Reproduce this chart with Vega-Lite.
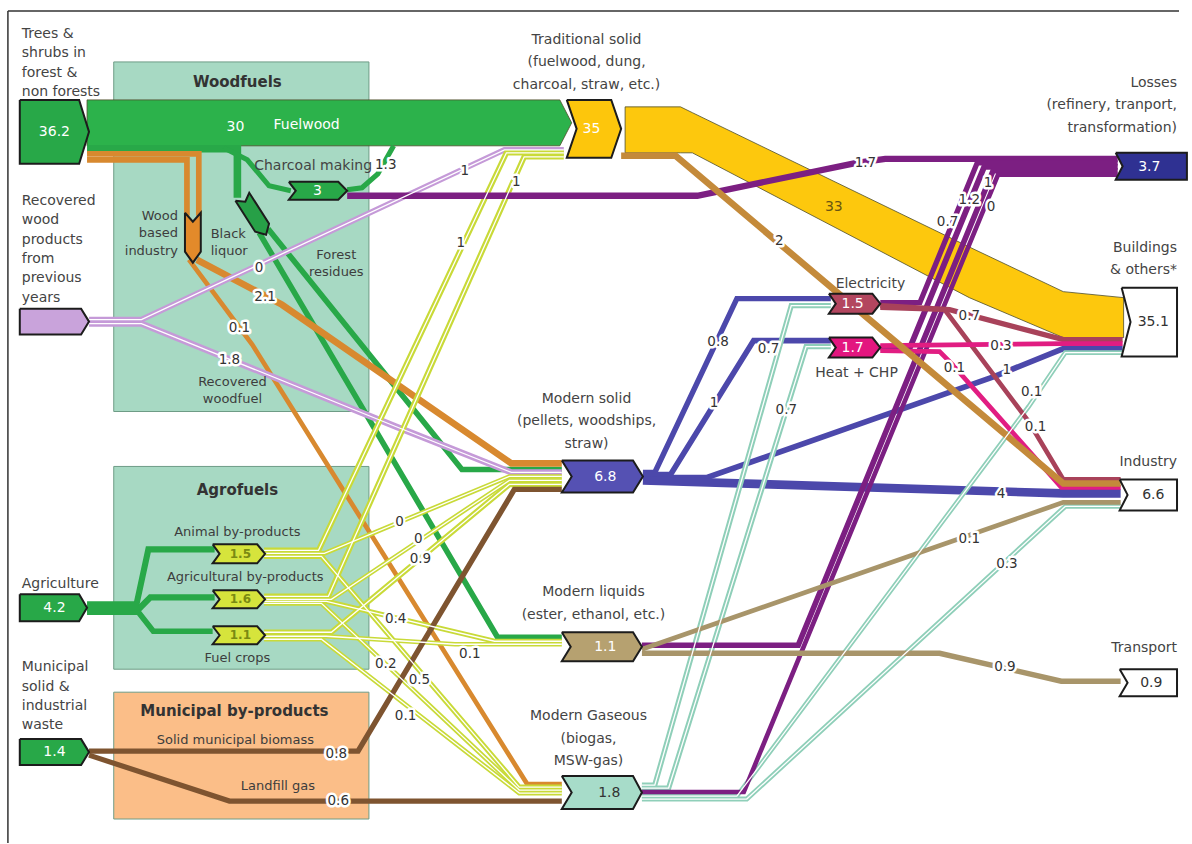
{
  "$schema": "https://vega.github.io/schema/vega-lite/v6.json",
  "width": 1192,
  "height": 844,
  "autosize": {"type": "fit", "contains": "padding"},
  "padding": 0,
  "background": "#ffffff",
  "config": {"view": {"stroke": null}, "text": {"font": "DejaVu Sans"}},
  "datasets": {
    "boxes": [
      {"name": "Woodfuels", "kind": "woodfuels box", "x0": 115, "x1": 373, "y0": 62, "y1": 412},
      {"name": "Agrofuels", "kind": "agrofuels box", "x0": 115, "x1": 373, "y0": 467, "y1": 670},
      {"name": "Municipal by-products", "kind": "municipal box", "x0": 115, "x1": 373, "y0": 693, "y1": 820}
    ],
    "bands": [
      {"id": "fuelwood", "kind": "fuelwood band", "x": 88, "y": 100, "y2": 146},
      {"id": "fuelwood", "kind": "fuelwood band", "x": 566, "y": 100, "y2": 146},
      {"id": "fuelwood", "kind": "fuelwood band", "x": 578, "y": 123, "y2": 123},
      {"id": "trad", "kind": "traditional band", "x": 632, "y": 107, "y2": 153},
      {"id": "trad", "kind": "traditional band", "x": 688, "y": 107, "y2": 153},
      {"id": "trad", "kind": "traditional band", "x": 700, "y": 112.8, "y2": 153},
      {"id": "trad", "kind": "traditional band", "x": 980, "y": 247.3, "y2": 298},
      {"id": "trad", "kind": "traditional band", "x": 1075, "y": 292, "y2": 338},
      {"id": "trad", "kind": "traditional band", "x": 1136, "y": 298, "y2": 338}
    ],
    "links": [
      {"id": "w_bl", "kind": "wood", "value": 3, "ord": 1, "x": 88, "y": 149},
      {"id": "w_bl", "kind": "wood", "value": 3, "ord": 2, "x": 240, "y": 149},
      {"id": "w_bl", "kind": "wood", "value": 3, "ord": 3, "x": 240, "y": 198},
      {"id": "w_ch", "kind": "wood", "value": 0.5, "ord": 1, "x": 226, "y": 148},
      {"id": "w_ch", "kind": "wood", "value": 0.5, "ord": 2, "x": 250, "y": 160},
      {"id": "w_ch", "kind": "wood", "value": 0.5, "ord": 3, "x": 272, "y": 186},
      {"id": "w_ch", "kind": "wood", "value": 0.5, "ord": 4, "x": 294, "y": 191},
      {"id": "w_ct", "kind": "wood", "value": 0.5, "ord": 1, "x": 351, "y": 190},
      {"id": "w_ct", "kind": "wood", "value": 0.5, "ord": 2, "x": 366, "y": 188},
      {"id": "w_ct", "kind": "wood", "value": 0.5, "ord": 3, "x": 382, "y": 174},
      {"id": "w_ct", "kind": "wood", "value": 0.5, "ord": 4, "x": 398, "y": 146},
      {"id": "w_bms", "kind": "wood", "value": 1, "ord": 1, "x": 271, "y": 229},
      {"id": "w_bms", "kind": "wood", "value": 1, "ord": 2, "x": 467, "y": 470},
      {"id": "w_bms", "kind": "wood", "value": 1, "ord": 3, "x": 568, "y": 470},
      {"id": "w_bliq", "kind": "wood", "value": 1, "ord": 1, "x": 262, "y": 233},
      {"id": "w_bliq", "kind": "wood", "value": 1, "ord": 2, "x": 503, "y": 638},
      {"id": "w_bliq", "kind": "wood", "value": 1, "ord": 3, "x": 568, "y": 638},
      {"id": "ag1", "kind": "wood", "value": 1.5, "ord": 1, "x": 88, "y": 605},
      {"id": "ag1", "kind": "wood", "value": 1.5, "ord": 2, "x": 138, "y": 605},
      {"id": "ag1", "kind": "wood", "value": 1.5, "ord": 3, "x": 150, "y": 550},
      {"id": "ag1", "kind": "wood", "value": 1.5, "ord": 4, "x": 217, "y": 550},
      {"id": "ag2", "kind": "wood", "value": 1.6, "ord": 1, "x": 88, "y": 609},
      {"id": "ag2", "kind": "wood", "value": 1.6, "ord": 2, "x": 141, "y": 609},
      {"id": "ag2", "kind": "wood", "value": 1.6, "ord": 3, "x": 152, "y": 598},
      {"id": "ag2", "kind": "wood", "value": 1.6, "ord": 4, "x": 217, "y": 598},
      {"id": "ag3", "kind": "wood", "value": 1.1, "ord": 1, "x": 88, "y": 613},
      {"id": "ag3", "kind": "wood", "value": 1.1, "ord": 2, "x": 140, "y": 613},
      {"id": "ag3", "kind": "wood", "value": 1.1, "ord": 3, "x": 155, "y": 632},
      {"id": "ag3", "kind": "wood", "value": 1.1, "ord": 4, "x": 215, "y": 632},
      {"id": "o1", "kind": "wood industry", "value": 1.1, "ord": 1, "x": 88, "y": 154},
      {"id": "o1", "kind": "wood industry", "value": 1.1, "ord": 2, "x": 201, "y": 154},
      {"id": "o1", "kind": "wood industry", "value": 1.1, "ord": 3, "x": 201, "y": 216},
      {"id": "o2", "kind": "wood industry", "value": 1.1, "ord": 1, "x": 88, "y": 160},
      {"id": "o2", "kind": "wood industry", "value": 1.1, "ord": 2, "x": 189, "y": 160},
      {"id": "o2", "kind": "wood industry", "value": 1.1, "ord": 3, "x": 189, "y": 216},
      {"id": "o_ms", "kind": "wood industry", "value": 2.1, "ord": 1, "x": 199, "y": 260},
      {"id": "o_ms", "kind": "wood industry", "value": 2.1, "ord": 2, "x": 285, "y": 305},
      {"id": "o_ms", "kind": "wood industry", "value": 2.1, "ord": 3, "x": 517, "y": 464},
      {"id": "o_ms", "kind": "wood industry", "value": 2.1, "ord": 4, "x": 568, "y": 464},
      {"id": "o_gas", "kind": "wood industry", "value": 0.1, "ord": 1, "x": 191, "y": 260},
      {"id": "o_gas", "kind": "wood industry", "value": 0.1, "ord": 2, "x": 255, "y": 345},
      {"id": "o_gas", "kind": "wood industry", "value": 0.1, "ord": 3, "x": 533, "y": 785},
      {"id": "o_gas", "kind": "wood industry", "value": 0.1, "ord": 4, "x": 568, "y": 785},
      {"id": "r_tr", "kind": "recovered", "value": 1, "ord": 1, "x": 90, "y": 320},
      {"id": "r_tr", "kind": "recovered", "value": 1, "ord": 2, "x": 143, "y": 320},
      {"id": "r_tr", "kind": "recovered", "value": 1, "ord": 3, "x": 510, "y": 150},
      {"id": "r_tr", "kind": "recovered", "value": 1, "ord": 4, "x": 570, "y": 150},
      {"id": "r_ms", "kind": "recovered", "value": 1.8, "ord": 1, "x": 90, "y": 324},
      {"id": "r_ms", "kind": "recovered", "value": 1.8, "ord": 2, "x": 143, "y": 324},
      {"id": "r_ms", "kind": "recovered", "value": 1.8, "ord": 3, "x": 400, "y": 427},
      {"id": "r_ms", "kind": "recovered", "value": 1.8, "ord": 4, "x": 517, "y": 473},
      {"id": "r_ms", "kind": "recovered", "value": 1.8, "ord": 5, "x": 568, "y": 473},
      {"id": "a_tr", "kind": "agro", "value": 1, "ord": 1, "x": 267, "y": 551},
      {"id": "a_tr", "kind": "agro", "value": 1, "ord": 2, "x": 322, "y": 551},
      {"id": "a_tr", "kind": "agro", "value": 1, "ord": 3, "x": 512, "y": 153},
      {"id": "a_tr", "kind": "agro", "value": 1, "ord": 4, "x": 570, "y": 153},
      {"id": "a_ms", "kind": "agro", "value": 0, "ord": 1, "x": 267, "y": 554},
      {"id": "a_ms", "kind": "agro", "value": 0, "ord": 2, "x": 328, "y": 554},
      {"id": "a_ms", "kind": "agro", "value": 0, "ord": 3, "x": 515, "y": 477},
      {"id": "a_ms", "kind": "agro", "value": 0, "ord": 4, "x": 568, "y": 477},
      {"id": "a_gas", "kind": "agro", "value": 0.5, "ord": 1, "x": 267, "y": 557},
      {"id": "a_gas", "kind": "agro", "value": 0.5, "ord": 2, "x": 325, "y": 557},
      {"id": "a_gas", "kind": "agro", "value": 0.5, "ord": 3, "x": 525, "y": 788},
      {"id": "a_gas", "kind": "agro", "value": 0.5, "ord": 4, "x": 568, "y": 788},
      {"id": "b_tr", "kind": "agro", "value": 1, "ord": 1, "x": 267, "y": 597},
      {"id": "b_tr", "kind": "agro", "value": 1, "ord": 2, "x": 332, "y": 597},
      {"id": "b_tr", "kind": "agro", "value": 1, "ord": 3, "x": 530, "y": 157},
      {"id": "b_tr", "kind": "agro", "value": 1, "ord": 4, "x": 570, "y": 157},
      {"id": "b_ms", "kind": "agro", "value": 0, "ord": 1, "x": 267, "y": 600},
      {"id": "b_ms", "kind": "agro", "value": 0, "ord": 2, "x": 335, "y": 600},
      {"id": "b_ms", "kind": "agro", "value": 0, "ord": 3, "x": 515, "y": 481},
      {"id": "b_ms", "kind": "agro", "value": 0, "ord": 4, "x": 568, "y": 481},
      {"id": "b_liq", "kind": "agro", "value": 0.4, "ord": 1, "x": 267, "y": 602},
      {"id": "b_liq", "kind": "agro", "value": 0.4, "ord": 2, "x": 330, "y": 602},
      {"id": "b_liq", "kind": "agro", "value": 0.4, "ord": 3, "x": 500, "y": 642},
      {"id": "b_liq", "kind": "agro", "value": 0.4, "ord": 4, "x": 568, "y": 642},
      {"id": "b_gas", "kind": "agro", "value": 0.2, "ord": 1, "x": 267, "y": 604},
      {"id": "b_gas", "kind": "agro", "value": 0.2, "ord": 2, "x": 325, "y": 604},
      {"id": "b_gas", "kind": "agro", "value": 0.2, "ord": 3, "x": 525, "y": 791},
      {"id": "b_gas", "kind": "agro", "value": 0.2, "ord": 4, "x": 568, "y": 791},
      {"id": "c_ms", "kind": "agro", "value": 0.9, "ord": 1, "x": 267, "y": 633},
      {"id": "c_ms", "kind": "agro", "value": 0.9, "ord": 2, "x": 335, "y": 633},
      {"id": "c_ms", "kind": "agro", "value": 0.9, "ord": 3, "x": 515, "y": 485},
      {"id": "c_ms", "kind": "agro", "value": 0.9, "ord": 4, "x": 568, "y": 485},
      {"id": "c_liq", "kind": "agro", "value": 0.1, "ord": 1, "x": 267, "y": 637},
      {"id": "c_liq", "kind": "agro", "value": 0.1, "ord": 2, "x": 330, "y": 637},
      {"id": "c_liq", "kind": "agro", "value": 0.1, "ord": 3, "x": 460, "y": 645},
      {"id": "c_liq", "kind": "agro", "value": 0.1, "ord": 4, "x": 568, "y": 645},
      {"id": "c_gas", "kind": "agro", "value": 0.1, "ord": 1, "x": 267, "y": 640},
      {"id": "c_gas", "kind": "agro", "value": 0.1, "ord": 2, "x": 325, "y": 640},
      {"id": "c_gas", "kind": "agro", "value": 0.1, "ord": 3, "x": 525, "y": 794},
      {"id": "c_gas", "kind": "agro", "value": 0.1, "ord": 4, "x": 568, "y": 794},
      {"id": "m_ms", "kind": "municipal", "value": 0.8, "ord": 1, "x": 90, "y": 752},
      {"id": "m_ms", "kind": "municipal", "value": 0.8, "ord": 2, "x": 362, "y": 752},
      {"id": "m_ms", "kind": "municipal", "value": 0.8, "ord": 3, "x": 520, "y": 490},
      {"id": "m_ms", "kind": "municipal", "value": 0.8, "ord": 4, "x": 568, "y": 490},
      {"id": "m_gas", "kind": "municipal", "value": 0.6, "ord": 1, "x": 90, "y": 756},
      {"id": "m_gas", "kind": "municipal", "value": 0.6, "ord": 2, "x": 232, "y": 802},
      {"id": "m_gas", "kind": "municipal", "value": 0.6, "ord": 3, "x": 568, "y": 802},
      {"id": "ms_el", "kind": "modern solid", "value": 0.8, "ord": 1, "x": 650, "y": 473},
      {"id": "ms_el", "kind": "modern solid", "value": 0.8, "ord": 2, "x": 662, "y": 473},
      {"id": "ms_el", "kind": "modern solid", "value": 0.8, "ord": 3, "x": 745, "y": 299},
      {"id": "ms_el", "kind": "modern solid", "value": 0.8, "ord": 4, "x": 840, "y": 299},
      {"id": "ms_ht", "kind": "modern solid", "value": 1, "ord": 1, "x": 650, "y": 475},
      {"id": "ms_ht", "kind": "modern solid", "value": 1, "ord": 2, "x": 678, "y": 475},
      {"id": "ms_ht", "kind": "modern solid", "value": 1, "ord": 3, "x": 762, "y": 341},
      {"id": "ms_ht", "kind": "modern solid", "value": 1, "ord": 4, "x": 840, "y": 341},
      {"id": "ms_bd", "kind": "modern solid", "value": 1, "ord": 1, "x": 650, "y": 478},
      {"id": "ms_bd", "kind": "modern solid", "value": 1, "ord": 2, "x": 715, "y": 478},
      {"id": "ms_bd", "kind": "modern solid", "value": 1, "ord": 3, "x": 1005, "y": 377},
      {"id": "ms_bd", "kind": "modern solid", "value": 1, "ord": 4, "x": 1075, "y": 349},
      {"id": "ms_bd", "kind": "modern solid", "value": 1, "ord": 5, "x": 1135, "y": 349},
      {"id": "ms_in", "kind": "modern solid", "value": 4, "ord": 1, "x": 650, "y": 481},
      {"id": "ms_in", "kind": "modern solid", "value": 4, "ord": 2, "x": 1075, "y": 494},
      {"id": "ms_in", "kind": "modern solid", "value": 4, "ord": 3, "x": 1133, "y": 494},
      {"id": "g_el", "kind": "modern gaseous", "value": 0.7, "ord": 1, "x": 649, "y": 786},
      {"id": "g_el", "kind": "modern gaseous", "value": 0.7, "ord": 2, "x": 662, "y": 786},
      {"id": "g_el", "kind": "modern gaseous", "value": 0.7, "ord": 3, "x": 800, "y": 306},
      {"id": "g_el", "kind": "modern gaseous", "value": 0.7, "ord": 4, "x": 840, "y": 306},
      {"id": "g_ht", "kind": "modern gaseous", "value": 0.7, "ord": 1, "x": 649, "y": 789},
      {"id": "g_ht", "kind": "modern gaseous", "value": 0.7, "ord": 2, "x": 676, "y": 789},
      {"id": "g_ht", "kind": "modern gaseous", "value": 0.7, "ord": 3, "x": 815, "y": 347},
      {"id": "g_ht", "kind": "modern gaseous", "value": 0.7, "ord": 4, "x": 840, "y": 347},
      {"id": "g_bd", "kind": "modern gaseous", "value": 0.1, "ord": 1, "x": 649, "y": 797},
      {"id": "g_bd", "kind": "modern gaseous", "value": 0.1, "ord": 2, "x": 745, "y": 797},
      {"id": "g_bd", "kind": "modern gaseous", "value": 0.1, "ord": 3, "x": 1040, "y": 407},
      {"id": "g_bd", "kind": "modern gaseous", "value": 0.1, "ord": 4, "x": 1077, "y": 353},
      {"id": "g_bd", "kind": "modern gaseous", "value": 0.1, "ord": 5, "x": 1135, "y": 353},
      {"id": "g_in", "kind": "modern gaseous", "value": 0.3, "ord": 1, "x": 649, "y": 800},
      {"id": "g_in", "kind": "modern gaseous", "value": 0.3, "ord": 2, "x": 755, "y": 800},
      {"id": "g_in", "kind": "modern gaseous", "value": 0.3, "ord": 3, "x": 1077, "y": 507},
      {"id": "g_in", "kind": "modern gaseous", "value": 0.3, "ord": 4, "x": 1133, "y": 507},
      {"id": "p_ch", "kind": "losses", "value": 1.7, "ord": 1, "x": 351, "y": 196},
      {"id": "p_ch", "kind": "losses", "value": 1.7, "ord": 2, "x": 705, "y": 196},
      {"id": "p_ch", "kind": "losses", "value": 1.7, "ord": 3, "x": 866, "y": 163},
      {"id": "p_ch", "kind": "losses", "value": 1.7, "ord": 4, "x": 895, "y": 159},
      {"id": "p_ch", "kind": "losses", "value": 1.7, "ord": 5, "x": 1130, "y": 159},
      {"id": "p_el", "kind": "losses", "value": 0.7, "ord": 1, "x": 890, "y": 303},
      {"id": "p_el", "kind": "losses", "value": 0.7, "ord": 2, "x": 930, "y": 303},
      {"id": "p_el", "kind": "losses", "value": 0.7, "ord": 3, "x": 988, "y": 163},
      {"id": "p_el", "kind": "losses", "value": 0.7, "ord": 4, "x": 1130, "y": 163},
      {"id": "p_ht", "kind": "losses", "value": 1.2, "ord": 1, "x": 890, "y": 348},
      {"id": "p_ht", "kind": "losses", "value": 1.2, "ord": 2, "x": 920, "y": 348},
      {"id": "p_ht", "kind": "losses", "value": 1.2, "ord": 3, "x": 995, "y": 167},
      {"id": "p_ht", "kind": "losses", "value": 1.2, "ord": 4, "x": 1130, "y": 167},
      {"id": "p_lq", "kind": "losses", "value": 1, "ord": 1, "x": 649, "y": 646},
      {"id": "p_lq", "kind": "losses", "value": 1, "ord": 2, "x": 807, "y": 646},
      {"id": "p_lq", "kind": "losses", "value": 1, "ord": 3, "x": 1004, "y": 171},
      {"id": "p_lq", "kind": "losses", "value": 1, "ord": 4, "x": 1130, "y": 171},
      {"id": "p_gs", "kind": "losses", "value": 0, "ord": 1, "x": 649, "y": 793},
      {"id": "p_gs", "kind": "losses", "value": 0, "ord": 2, "x": 752, "y": 793},
      {"id": "p_gs", "kind": "losses", "value": 0, "ord": 3, "x": 1009, "y": 175},
      {"id": "p_gs", "kind": "losses", "value": 0, "ord": 4, "x": 1130, "y": 175},
      {"id": "e_bd", "kind": "electricity", "value": 0.7, "ord": 1, "x": 890, "y": 306},
      {"id": "e_bd", "kind": "electricity", "value": 0.7, "ord": 2, "x": 960, "y": 310},
      {"id": "e_bd", "kind": "electricity", "value": 0.7, "ord": 3, "x": 1075, "y": 340},
      {"id": "e_bd", "kind": "electricity", "value": 0.7, "ord": 4, "x": 1135, "y": 340},
      {"id": "e_in", "kind": "electricity", "value": 0.1, "ord": 1, "x": 890, "y": 308},
      {"id": "e_in", "kind": "electricity", "value": 0.1, "ord": 2, "x": 955, "y": 310},
      {"id": "e_in", "kind": "electricity", "value": 0.1, "ord": 3, "x": 1040, "y": 422},
      {"id": "e_in", "kind": "electricity", "value": 0.1, "ord": 4, "x": 1075, "y": 480},
      {"id": "e_in", "kind": "electricity", "value": 0.1, "ord": 5, "x": 1133, "y": 480},
      {"id": "h_bd", "kind": "heat", "value": 0.3, "ord": 1, "x": 890, "y": 346},
      {"id": "h_bd", "kind": "heat", "value": 0.3, "ord": 2, "x": 1075, "y": 344},
      {"id": "h_bd", "kind": "heat", "value": 0.3, "ord": 3, "x": 1135, "y": 344},
      {"id": "h_in", "kind": "heat", "value": 0.1, "ord": 1, "x": 890, "y": 351},
      {"id": "h_in", "kind": "heat", "value": 0.1, "ord": 2, "x": 950, "y": 352},
      {"id": "h_in", "kind": "heat", "value": 0.1, "ord": 3, "x": 963, "y": 365},
      {"id": "h_in", "kind": "heat", "value": 0.1, "ord": 4, "x": 1073, "y": 488},
      {"id": "h_in", "kind": "heat", "value": 0.1, "ord": 5, "x": 1133, "y": 488},
      {"id": "t_in", "kind": "traditional", "value": 2, "ord": 1, "x": 628, "y": 156},
      {"id": "t_in", "kind": "traditional", "value": 2, "ord": 2, "x": 683, "y": 156},
      {"id": "t_in", "kind": "traditional", "value": 2, "ord": 3, "x": 1075, "y": 484},
      {"id": "t_in", "kind": "traditional", "value": 2, "ord": 4, "x": 1133, "y": 484},
      {"id": "l_in", "kind": "modern liquids", "value": 0.1, "ord": 1, "x": 649, "y": 650},
      {"id": "l_in", "kind": "modern liquids", "value": 0.1, "ord": 2, "x": 1075, "y": 503},
      {"id": "l_in", "kind": "modern liquids", "value": 0.1, "ord": 3, "x": 1133, "y": 503},
      {"id": "l_tr", "kind": "modern liquids", "value": 0.9, "ord": 1, "x": 649, "y": 654},
      {"id": "l_tr", "kind": "modern liquids", "value": 0.9, "ord": 2, "x": 950, "y": 654},
      {"id": "l_tr", "kind": "modern liquids", "value": 0.9, "ord": 3, "x": 1073, "y": 682},
      {"id": "l_tr", "kind": "modern liquids", "value": 0.9, "ord": 4, "x": 1133, "y": 682}
    ],
    "nodes": [
      {"id": "trees", "kind": "green", "ord": 1, "x": 20, "y": 100},
      {"id": "trees", "kind": "green", "ord": 2, "x": 80, "y": 100},
      {"id": "trees", "kind": "green", "ord": 3, "x": 90, "y": 132},
      {"id": "trees", "kind": "green", "ord": 4, "x": 80, "y": 164},
      {"id": "trees", "kind": "green", "ord": 5, "x": 20, "y": 164},
      {"id": "trees", "kind": "green", "ord": 6, "x": 20, "y": 100},
      {"id": "recov", "kind": "recovered", "ord": 1, "x": 20, "y": 309},
      {"id": "recov", "kind": "recovered", "ord": 2, "x": 82, "y": 309},
      {"id": "recov", "kind": "recovered", "ord": 3, "x": 90, "y": 322},
      {"id": "recov", "kind": "recovered", "ord": 4, "x": 82, "y": 335},
      {"id": "recov", "kind": "recovered", "ord": 5, "x": 20, "y": 335},
      {"id": "recov", "kind": "recovered", "ord": 6, "x": 20, "y": 309},
      {"id": "agri", "kind": "green", "ord": 1, "x": 20, "y": 595},
      {"id": "agri", "kind": "green", "ord": 2, "x": 80, "y": 595},
      {"id": "agri", "kind": "green", "ord": 3, "x": 88, "y": 608.5},
      {"id": "agri", "kind": "green", "ord": 4, "x": 80, "y": 622},
      {"id": "agri", "kind": "green", "ord": 5, "x": 20, "y": 622},
      {"id": "agri", "kind": "green", "ord": 6, "x": 20, "y": 595},
      {"id": "muni", "kind": "green", "ord": 1, "x": 20, "y": 740},
      {"id": "muni", "kind": "green", "ord": 2, "x": 82, "y": 740},
      {"id": "muni", "kind": "green", "ord": 3, "x": 90, "y": 753},
      {"id": "muni", "kind": "green", "ord": 4, "x": 82, "y": 766},
      {"id": "muni", "kind": "green", "ord": 5, "x": 20, "y": 766},
      {"id": "muni", "kind": "green", "ord": 6, "x": 20, "y": 740},
      {"id": "charc", "kind": "green", "ord": 1, "x": 292, "y": 182},
      {"id": "charc", "kind": "green", "ord": 2, "x": 342, "y": 182},
      {"id": "charc", "kind": "green", "ord": 3, "x": 351, "y": 191},
      {"id": "charc", "kind": "green", "ord": 4, "x": 342, "y": 200},
      {"id": "charc", "kind": "green", "ord": 5, "x": 292, "y": 200},
      {"id": "charc", "kind": "green", "ord": 6, "x": 299, "y": 191},
      {"id": "charc", "kind": "green", "ord": 7, "x": 292, "y": 182},
      {"id": "trad", "kind": "traditional", "ord": 1, "x": 573, "y": 100},
      {"id": "trad", "kind": "traditional", "ord": 2, "x": 618, "y": 100},
      {"id": "trad", "kind": "traditional", "ord": 3, "x": 628, "y": 129},
      {"id": "trad", "kind": "traditional", "ord": 4, "x": 618, "y": 158},
      {"id": "trad", "kind": "traditional", "ord": 5, "x": 573, "y": 158},
      {"id": "trad", "kind": "traditional", "ord": 6, "x": 583, "y": 129},
      {"id": "trad", "kind": "traditional", "ord": 7, "x": 573, "y": 100},
      {"id": "msol", "kind": "modern solid", "ord": 1, "x": 568, "y": 461},
      {"id": "msol", "kind": "modern solid", "ord": 2, "x": 640, "y": 461},
      {"id": "msol", "kind": "modern solid", "ord": 3, "x": 650, "y": 477},
      {"id": "msol", "kind": "modern solid", "ord": 4, "x": 640, "y": 493},
      {"id": "msol", "kind": "modern solid", "ord": 5, "x": 568, "y": 493},
      {"id": "msol", "kind": "modern solid", "ord": 6, "x": 578, "y": 477},
      {"id": "msol", "kind": "modern solid", "ord": 7, "x": 568, "y": 461},
      {"id": "mliq", "kind": "modern liquids", "ord": 1, "x": 568, "y": 633},
      {"id": "mliq", "kind": "modern liquids", "ord": 2, "x": 640, "y": 633},
      {"id": "mliq", "kind": "modern liquids", "ord": 3, "x": 649, "y": 647.5},
      {"id": "mliq", "kind": "modern liquids", "ord": 4, "x": 640, "y": 662},
      {"id": "mliq", "kind": "modern liquids", "ord": 5, "x": 568, "y": 662},
      {"id": "mliq", "kind": "modern liquids", "ord": 6, "x": 577, "y": 647.5},
      {"id": "mliq", "kind": "modern liquids", "ord": 7, "x": 568, "y": 633},
      {"id": "mgas", "kind": "modern gaseous", "ord": 1, "x": 568, "y": 777},
      {"id": "mgas", "kind": "modern gaseous", "ord": 2, "x": 640, "y": 777},
      {"id": "mgas", "kind": "modern gaseous", "ord": 3, "x": 649, "y": 793.5},
      {"id": "mgas", "kind": "modern gaseous", "ord": 4, "x": 640, "y": 810},
      {"id": "mgas", "kind": "modern gaseous", "ord": 5, "x": 568, "y": 810},
      {"id": "mgas", "kind": "modern gaseous", "ord": 6, "x": 578, "y": 793.5},
      {"id": "mgas", "kind": "modern gaseous", "ord": 7, "x": 568, "y": 777},
      {"id": "elec", "kind": "electricity", "ord": 1, "x": 838, "y": 294},
      {"id": "elec", "kind": "electricity", "ord": 2, "x": 882, "y": 294},
      {"id": "elec", "kind": "electricity", "ord": 3, "x": 890, "y": 304},
      {"id": "elec", "kind": "electricity", "ord": 4, "x": 882, "y": 314},
      {"id": "elec", "kind": "electricity", "ord": 5, "x": 838, "y": 314},
      {"id": "elec", "kind": "electricity", "ord": 6, "x": 845, "y": 304},
      {"id": "elec", "kind": "electricity", "ord": 7, "x": 838, "y": 294},
      {"id": "heat", "kind": "heat", "ord": 1, "x": 838, "y": 338},
      {"id": "heat", "kind": "heat", "ord": 2, "x": 882, "y": 338},
      {"id": "heat", "kind": "heat", "ord": 3, "x": 890, "y": 348},
      {"id": "heat", "kind": "heat", "ord": 4, "x": 882, "y": 358},
      {"id": "heat", "kind": "heat", "ord": 5, "x": 838, "y": 358},
      {"id": "heat", "kind": "heat", "ord": 6, "x": 845, "y": 348},
      {"id": "heat", "kind": "heat", "ord": 7, "x": 838, "y": 338},
      {"id": "loss", "kind": "losses", "ord": 1, "x": 1128, "y": 153},
      {"id": "loss", "kind": "losses", "ord": 2, "x": 1200, "y": 153},
      {"id": "loss", "kind": "losses", "ord": 3, "x": 1200, "y": 180},
      {"id": "loss", "kind": "losses", "ord": 4, "x": 1128, "y": 180},
      {"id": "loss", "kind": "losses", "ord": 5, "x": 1135, "y": 166.5},
      {"id": "loss", "kind": "losses", "ord": 6, "x": 1128, "y": 153},
      {"id": "bld", "kind": "use", "ord": 1, "x": 1134, "y": 288},
      {"id": "bld", "kind": "use", "ord": 2, "x": 1190, "y": 288},
      {"id": "bld", "kind": "use", "ord": 3, "x": 1190, "y": 357},
      {"id": "bld", "kind": "use", "ord": 4, "x": 1134, "y": 357},
      {"id": "bld", "kind": "use", "ord": 5, "x": 1143, "y": 322.5},
      {"id": "bld", "kind": "use", "ord": 6, "x": 1134, "y": 288},
      {"id": "ind", "kind": "use", "ord": 1, "x": 1132, "y": 480},
      {"id": "ind", "kind": "use", "ord": 2, "x": 1190, "y": 480},
      {"id": "ind", "kind": "use", "ord": 3, "x": 1190, "y": 511},
      {"id": "ind", "kind": "use", "ord": 4, "x": 1132, "y": 511},
      {"id": "ind", "kind": "use", "ord": 5, "x": 1140, "y": 495.5},
      {"id": "ind", "kind": "use", "ord": 6, "x": 1132, "y": 480},
      {"id": "trn", "kind": "use", "ord": 1, "x": 1132, "y": 670},
      {"id": "trn", "kind": "use", "ord": 2, "x": 1190, "y": 670},
      {"id": "trn", "kind": "use", "ord": 3, "x": 1190, "y": 697},
      {"id": "trn", "kind": "use", "ord": 4, "x": 1132, "y": 697},
      {"id": "trn", "kind": "use", "ord": 5, "x": 1140, "y": 683.5},
      {"id": "trn", "kind": "use", "ord": 6, "x": 1132, "y": 670},
      {"id": "anim", "kind": "agro", "ord": 1, "x": 215, "y": 545},
      {"id": "anim", "kind": "agro", "ord": 2, "x": 260, "y": 545},
      {"id": "anim", "kind": "agro", "ord": 3, "x": 268, "y": 554.5},
      {"id": "anim", "kind": "agro", "ord": 4, "x": 260, "y": 564},
      {"id": "anim", "kind": "agro", "ord": 5, "x": 215, "y": 564},
      {"id": "anim", "kind": "agro", "ord": 6, "x": 222, "y": 554.5},
      {"id": "anim", "kind": "agro", "ord": 7, "x": 215, "y": 545},
      {"id": "agbp", "kind": "agro", "ord": 1, "x": 215, "y": 591},
      {"id": "agbp", "kind": "agro", "ord": 2, "x": 260, "y": 591},
      {"id": "agbp", "kind": "agro", "ord": 3, "x": 268, "y": 600},
      {"id": "agbp", "kind": "agro", "ord": 4, "x": 260, "y": 609},
      {"id": "agbp", "kind": "agro", "ord": 5, "x": 215, "y": 609},
      {"id": "agbp", "kind": "agro", "ord": 6, "x": 222, "y": 600},
      {"id": "agbp", "kind": "agro", "ord": 7, "x": 215, "y": 591},
      {"id": "fuel", "kind": "agro", "ord": 1, "x": 215, "y": 627},
      {"id": "fuel", "kind": "agro", "ord": 2, "x": 260, "y": 627},
      {"id": "fuel", "kind": "agro", "ord": 3, "x": 268, "y": 636},
      {"id": "fuel", "kind": "agro", "ord": 4, "x": 260, "y": 645},
      {"id": "fuel", "kind": "agro", "ord": 5, "x": 215, "y": 645},
      {"id": "fuel", "kind": "agro", "ord": 6, "x": 222, "y": 636},
      {"id": "fuel", "kind": "agro", "ord": 7, "x": 215, "y": 627},
      {"id": "wbi", "kind": "wood industry", "ord": 1, "x": 187, "y": 213},
      {"id": "wbi", "kind": "wood industry", "ord": 2, "x": 195, "y": 222},
      {"id": "wbi", "kind": "wood industry", "ord": 3, "x": 203, "y": 213},
      {"id": "wbi", "kind": "wood industry", "ord": 4, "x": 203, "y": 252},
      {"id": "wbi", "kind": "wood industry", "ord": 5, "x": 195, "y": 263},
      {"id": "wbi", "kind": "wood industry", "ord": 6, "x": 187, "y": 252},
      {"id": "wbi", "kind": "wood industry", "ord": 7, "x": 187, "y": 213},
      {"id": "blq", "kind": "black liquor", "ord": 1, "x": 238, "y": 201},
      {"id": "blq", "kind": "black liquor", "ord": 2, "x": 248, "y": 202},
      {"id": "blq", "kind": "black liquor", "ord": 3, "x": 252, "y": 193},
      {"id": "blq", "kind": "black liquor", "ord": 4, "x": 272, "y": 224},
      {"id": "blq", "kind": "black liquor", "ord": 5, "x": 269, "y": 235},
      {"id": "blq", "kind": "black liquor", "ord": 6, "x": 258, "y": 232},
      {"id": "blq", "kind": "black liquor", "ord": 7, "x": 238, "y": 201}
    ],
    "texts": [
      {"style": "left", "text": "Trees &\nshrubs in\nforest &\nnon forests", "x": 22, "y": 27},
      {"style": "left", "text": "Recovered\nwood\nproducts\nfrom\nprevious\nyears", "x": 22, "y": 194},
      {"style": "left", "text": "Agriculture", "x": 22, "y": 578},
      {"style": "left", "text": "Municipal\nsolid &\nindustrial\nwaste", "x": 22, "y": 661},
      {"style": "left", "text": "Charcoal making", "x": 257, "y": 159},
      {"style": "right", "text": "Losses\n(refinery, tranport,\ntransformation)", "x": 1190, "y": 76},
      {"style": "right", "text": "Buildings\n& others*", "x": 1190, "y": 241},
      {"style": "right", "text": "Industry", "x": 1190, "y": 456},
      {"style": "right", "text": "Transport", "x": 1190, "y": 642},
      {"style": "center", "text": "Traditional solid\n(fuelwood, dung,\ncharcoal, straw, etc.)", "x": 593, "y": 33},
      {"style": "center", "text": "Modern solid\n(pellets, woodships,\nstraw)", "x": 593, "y": 392},
      {"style": "center", "text": "Modern liquids\n(ester, ethanol, etc.)", "x": 600, "y": 586},
      {"style": "center", "text": "Modern Gaseous\n(biogas,\nMSW-gas)", "x": 595, "y": 710},
      {"style": "center", "text": "Electricity", "x": 880, "y": 277},
      {"style": "center", "text": "Heat + CHP", "x": 866, "y": 366},
      {"style": "small", "text": "Forest\nresidues", "x": 340, "y": 249},
      {"style": "small", "text": "Recovered\nwoodfuel", "x": 235, "y": 376},
      {"style": "small", "text": "Animal by-products", "x": 240, "y": 527},
      {"style": "small", "text": "Agricultural by-products", "x": 248, "y": 572},
      {"style": "small", "text": "Fuel crops", "x": 240, "y": 653},
      {"style": "small", "text": "Solid municipal biomass", "x": 238, "y": 735},
      {"style": "small", "text": "Landfill gas", "x": 281, "y": 781},
      {"style": "smallleft", "text": "Black\nliquor", "x": 213, "y": 228},
      {"style": "smallright", "text": "Wood\nbased\nindustry", "x": 180, "y": 210},
      {"style": "title", "text": "Woodfuels", "x": 240, "y": 82},
      {"style": "title", "text": "Agrofuels", "x": 240, "y": 491},
      {"style": "title", "text": "Municipal by-products", "x": 237, "y": 712},
      {"style": "num", "text": "1.3", "x": 390, "y": 165},
      {"style": "num", "text": "0", "x": 262, "y": 268},
      {"style": "num", "text": "2.1", "x": 268, "y": 297},
      {"style": "num", "text": "0.1", "x": 242, "y": 328},
      {"style": "num", "text": "1.8", "x": 232, "y": 360},
      {"style": "num", "text": "1", "x": 470, "y": 171},
      {"style": "num", "text": "1", "x": 522, "y": 182},
      {"style": "num", "text": "1", "x": 466, "y": 243},
      {"style": "num", "text": "2", "x": 788, "y": 241},
      {"style": "num", "text": "1.7", "x": 875, "y": 163},
      {"style": "num", "text": "0.7", "x": 958, "y": 222},
      {"style": "num", "text": "1.2", "x": 980, "y": 200},
      {"style": "num", "text": "1", "x": 999, "y": 183},
      {"style": "num", "text": "0", "x": 1002, "y": 207},
      {"style": "num", "text": "0.8", "x": 726, "y": 342},
      {"style": "num", "text": "1", "x": 722, "y": 403},
      {"style": "num", "text": "0.7", "x": 777, "y": 349},
      {"style": "num", "text": "0.7", "x": 795, "y": 410},
      {"style": "num", "text": "0.7", "x": 980, "y": 316},
      {"style": "num", "text": "0.3", "x": 1012, "y": 346},
      {"style": "num", "text": "0.1", "x": 965, "y": 368},
      {"style": "num", "text": "1", "x": 1018, "y": 370},
      {"style": "num", "text": "0.1", "x": 1043, "y": 392},
      {"style": "num", "text": "0.1", "x": 1047, "y": 428},
      {"style": "num", "text": "4", "x": 1012, "y": 495},
      {"style": "num", "text": "0.1", "x": 980, "y": 540},
      {"style": "num", "text": "0.3", "x": 1018, "y": 565},
      {"style": "num", "text": "0", "x": 404, "y": 523},
      {"style": "num", "text": "0", "x": 423, "y": 540},
      {"style": "num", "text": "0.9", "x": 425, "y": 560},
      {"style": "num", "text": "0.4", "x": 400, "y": 620},
      {"style": "num", "text": "0.1", "x": 475, "y": 655},
      {"style": "num", "text": "0.2", "x": 390, "y": 665},
      {"style": "num", "text": "0.5", "x": 424, "y": 681},
      {"style": "num", "text": "0.1", "x": 410, "y": 717},
      {"style": "num", "text": "0.9", "x": 1016, "y": 668},
      {"style": "num", "text": "0.8", "x": 340, "y": 755},
      {"style": "num", "text": "0.6", "x": 342, "y": 802},
      {"style": "white", "text": "36.2", "x": 55, "y": 132},
      {"style": "white", "text": "30", "x": 238, "y": 127},
      {"style": "white", "text": "Fuelwood", "x": 310, "y": 125},
      {"style": "white", "text": "3", "x": 321, "y": 191},
      {"style": "white", "text": "35", "x": 598, "y": 129},
      {"style": "white", "text": "6.8", "x": 612, "y": 478},
      {"style": "white", "text": "1.1", "x": 612, "y": 648},
      {"style": "white", "text": "3.7", "x": 1162, "y": 167},
      {"style": "white", "text": "1.5", "x": 862, "y": 304},
      {"style": "white", "text": "1.7", "x": 862, "y": 348},
      {"style": "white", "text": "4.2", "x": 55, "y": 609},
      {"style": "white", "text": "1.4", "x": 55, "y": 753},
      {"style": "dark", "text": "35.1", "x": 1166, "y": 322},
      {"style": "dark", "text": "6.6", "x": 1166, "y": 496},
      {"style": "dark", "text": "0.9", "x": 1164, "y": 684},
      {"style": "dark", "text": "1.8", "x": 616, "y": 794},
      {"style": "olive", "text": "33", "x": 843, "y": 207},
      {"style": "agro", "text": "1.5", "x": 243, "y": 555},
      {"style": "agro", "text": "1.6", "x": 243, "y": 600},
      {"style": "agro", "text": "1.1", "x": 243, "y": 636}
    ]
  },
  "layer": [
    {
      "data": {"name": "boxes"},
      "mark": {"type": "rect", "stroke": "#6e9c86", "strokeWidth": 1},
      "encoding": {
        "x": {"field": "x0", "type": "quantitative", "scale": {"domain": [0, 1192], "nice": false, "zero": false}, "axis": null},
        "x2": {"field": "x1"},
        "y": {"field": "y0", "type": "quantitative", "scale": {"domain": [0, 844], "reverse": true, "nice": false, "zero": false}, "axis": null},
        "y2": {"field": "y1"},
        "color": {"field": "kind", "type": "nominal", "legend": null,
          "scale": {"domain": ["woodfuels box", "agrofuels box", "municipal box", "fuelwood band", "traditional band", "wood", "wood industry", "recovered", "agro", "municipal", "modern solid", "modern gaseous", "losses", "electricity", "heat", "traditional", "modern liquids"],
                    "range": ["#a7d9c3", "#a7d9c3", "#fbbe88", "#2cb24b", "#fdc80d", "#28a848", "#d8892f", "#c59ad8", "#c9da38", "#7e5430", "#4c48ab", "#8fcfb9", "#7c1f82", "#a8425a", "#e11d82", "#c48a3a", "#a8956a"]}}
      }
    },
    {
      "data": {"values": [{}]},
      "mark": {"type": "rule", "stroke": "#333333", "strokeWidth": 1.5},
      "encoding": {
        "x": {"datum": 8, "type": "quantitative"},
        "y": {"datum": 11, "type": "quantitative"},
        "y2": {"datum": 844}
      }
    },
    {
      "data": {"values": [{}]},
      "mark": {"type": "rule", "stroke": "#333333", "strokeWidth": 1.5},
      "encoding": {
        "x": {"datum": 8, "type": "quantitative"},
        "x2": {"datum": 1192},
        "y": {"datum": 11, "type": "quantitative"}
      }
    },
    {
      "data": {"name": "bands"},
      "mark": {"type": "area", "stroke": "#4d4d2a", "strokeWidth": 0.8},
      "encoding": {
        "x": {"field": "x", "type": "quantitative"},
        "y": {"field": "y", "type": "quantitative"},
        "y2": {"field": "y2"},
        "detail": {"field": "id"},
        "color": {"field": "kind", "type": "nominal", "legend": null}
      }
    },
    {
      "data": {"name": "links"},
      "mark": {"type": "line", "strokeJoin": "miter", "strokeMiterLimit": 4, "strokeCap": "butt"},
      "encoding": {
        "x": {"field": "x", "type": "quantitative"},
        "y": {"field": "y", "type": "quantitative"},
        "detail": {"field": "id"},
        "order": {"field": "ord", "type": "quantitative"},
        "color": {"field": "kind", "type": "nominal", "legend": null},
        "size": {"field": "value", "type": "quantitative", "legend": null, "scale": {"domain": [0, 4], "range": [4.6, 8.6]}}
      }
    },
    {
      "data": {"name": "links"},
      "transform": [{"filter": {"field": "kind", "oneOf": ["recovered", "agro", "modern gaseous"]}}],
      "mark": {"type": "line", "stroke": "#ffffff", "strokeWidth": 1.3, "strokeJoin": "miter", "strokeMiterLimit": 4, "strokeCap": "butt"},
      "encoding": {
        "x": {"field": "x", "type": "quantitative"},
        "y": {"field": "y", "type": "quantitative"},
        "detail": {"field": "id"},
        "order": {"field": "ord", "type": "quantitative"}
      }
    },
    {
      "data": {"name": "nodes"},
      "mark": {"type": "line", "stroke": "#1c1c1c", "strokeWidth": 2, "strokeJoin": "miter"},
      "encoding": {
        "x": {"field": "x", "type": "quantitative"},
        "y": {"field": "y", "type": "quantitative"},
        "detail": {"field": "id"},
        "order": {"field": "ord", "type": "quantitative"},
        "fill": {"field": "kind", "type": "nominal", "legend": null,
          "scale": {"domain": ["green", "recovered", "agro", "wood industry", "black liquor", "traditional", "modern solid", "modern liquids", "modern gaseous", "electricity", "heat", "losses", "use"],
                    "range": ["#28a848", "#c9a3db", "#d6e43c", "#e38a2a", "#27a047", "#fdc60c", "#5551b3", "#b6a170", "#a7dcc9", "#b3465f", "#e3167f", "#2f3192", "#ffffff"]}}
      }
    },
    {
      "data": {"name": "texts"},
      "transform": [{"filter": "datum.style == 'left'"}],
      "mark": {"type": "text", "align": "left", "baseline": "top", "fontSize": 14, "lineHeight": 19.4, "lineBreak": "\n", "fill": "#444444"},
      "encoding": {"x": {"field": "x", "type": "quantitative"}, "y": {"field": "y", "type": "quantitative"}, "text": {"field": "text"}}
    },
    {
      "data": {"name": "texts"},
      "transform": [{"filter": "datum.style == 'right'"}],
      "mark": {"type": "text", "align": "right", "baseline": "top", "fontSize": 14, "lineHeight": 22.5, "lineBreak": "\n", "fill": "#444444"},
      "encoding": {"x": {"field": "x", "type": "quantitative"}, "y": {"field": "y", "type": "quantitative"}, "text": {"field": "text"}}
    },
    {
      "data": {"name": "texts"},
      "transform": [{"filter": "datum.style == 'center'"}],
      "mark": {"type": "text", "align": "center", "baseline": "top", "fontSize": 14, "lineHeight": 22.5, "lineBreak": "\n", "fill": "#444444"},
      "encoding": {"x": {"field": "x", "type": "quantitative"}, "y": {"field": "y", "type": "quantitative"}, "text": {"field": "text"}}
    },
    {
      "data": {"name": "texts"},
      "transform": [{"filter": "datum.style == 'small'"}],
      "mark": {"type": "text", "align": "center", "baseline": "top", "fontSize": 13, "lineHeight": 17, "lineBreak": "\n", "fill": "#3d3d3d"},
      "encoding": {"x": {"field": "x", "type": "quantitative"}, "y": {"field": "y", "type": "quantitative"}, "text": {"field": "text"}}
    },
    {
      "data": {"name": "texts"},
      "transform": [{"filter": "datum.style == 'smallleft'"}],
      "mark": {"type": "text", "align": "left", "baseline": "top", "fontSize": 13, "lineHeight": 17, "lineBreak": "\n", "fill": "#3d3d3d"},
      "encoding": {"x": {"field": "x", "type": "quantitative"}, "y": {"field": "y", "type": "quantitative"}, "text": {"field": "text"}}
    },
    {
      "data": {"name": "texts"},
      "transform": [{"filter": "datum.style == 'smallright'"}],
      "mark": {"type": "text", "align": "right", "baseline": "top", "fontSize": 13, "lineHeight": 17.5, "lineBreak": "\n", "fill": "#3d3d3d"},
      "encoding": {"x": {"field": "x", "type": "quantitative"}, "y": {"field": "y", "type": "quantitative"}, "text": {"field": "text"}}
    },
    {
      "data": {"name": "texts"},
      "transform": [{"filter": "datum.style == 'title'"}],
      "mark": {"type": "text", "align": "center", "baseline": "middle", "fontSize": 15, "fontWeight": "bold", "fill": "#333333"},
      "encoding": {"x": {"field": "x", "type": "quantitative"}, "y": {"field": "y", "type": "quantitative"}, "text": {"field": "text"}}
    },
    {
      "data": {"name": "texts"},
      "transform": [{"filter": "datum.style == 'num'"}],
      "mark": {"type": "text", "align": "center", "baseline": "middle", "fontSize": 13.5, "fill": "#ffffff", "stroke": "#ffffff", "strokeWidth": 5, "strokeJoin": "round"},
      "encoding": {"x": {"field": "x", "type": "quantitative"}, "y": {"field": "y", "type": "quantitative"}, "text": {"field": "text"}}
    },
    {
      "data": {"name": "texts"},
      "transform": [{"filter": "datum.style == 'num'"}],
      "mark": {"type": "text", "align": "center", "baseline": "middle", "fontSize": 13.5, "fill": "#333333"},
      "encoding": {"x": {"field": "x", "type": "quantitative"}, "y": {"field": "y", "type": "quantitative"}, "text": {"field": "text"}}
    },
    {
      "data": {"name": "texts"},
      "transform": [{"filter": "datum.style == 'white'"}],
      "mark": {"type": "text", "align": "center", "baseline": "middle", "fontSize": 14, "fill": "#ffffff"},
      "encoding": {"x": {"field": "x", "type": "quantitative"}, "y": {"field": "y", "type": "quantitative"}, "text": {"field": "text"}}
    },
    {
      "data": {"name": "texts"},
      "transform": [{"filter": "datum.style == 'dark'"}],
      "mark": {"type": "text", "align": "center", "baseline": "middle", "fontSize": 14, "fill": "#333333"},
      "encoding": {"x": {"field": "x", "type": "quantitative"}, "y": {"field": "y", "type": "quantitative"}, "text": {"field": "text"}}
    },
    {
      "data": {"name": "texts"},
      "transform": [{"filter": "datum.style == 'olive'"}],
      "mark": {"type": "text", "align": "center", "baseline": "middle", "fontSize": 14, "fill": "#6a5510"},
      "encoding": {"x": {"field": "x", "type": "quantitative"}, "y": {"field": "y", "type": "quantitative"}, "text": {"field": "text"}}
    },
    {
      "data": {"name": "texts"},
      "transform": [{"filter": "datum.style == 'agro'"}],
      "mark": {"type": "text", "align": "center", "baseline": "middle", "fontSize": 12, "fontWeight": "bold", "fill": "#7a8a12"},
      "encoding": {"x": {"field": "x", "type": "quantitative"}, "y": {"field": "y", "type": "quantitative"}, "text": {"field": "text"}}
    }
  ]
}
